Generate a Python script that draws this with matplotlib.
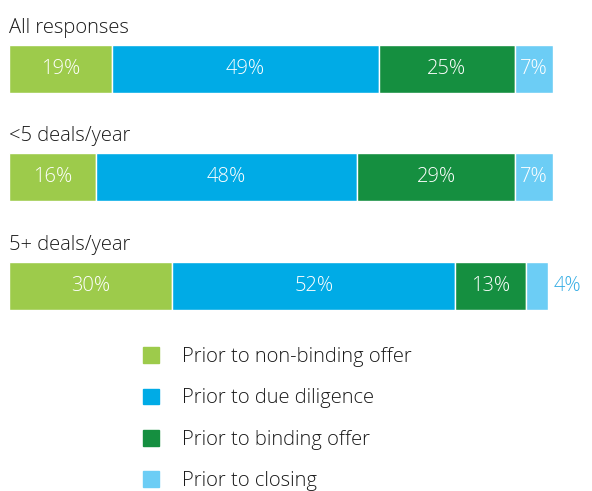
import matplotlib
matplotlib.use("Agg")
import matplotlib.pyplot as plt
import matplotlib.patches as mpatches

plt.rcParams['font.family'] = ['Open Sans', 'DejaVu Sans']

categories = ["All responses", "<5 deals/year", "5+ deals/year"]
stages = ["Prior to non-binding offer", "Prior to due diligence",
          "Prior to binding offer", "Prior to closing"]
non_binding = [19, 16, 30]
due_diligence = [49, 48, 52]
binding = [25, 29, 13]
closing = [7, 7, 4]

colors = ["#9DCB4B", "#00ABE6", "#158F40", "#6CCDF5"]

W, H = 592, 491
fig = plt.figure(figsize=(W / 100, H / 100), dpi=100)

def px_axes(x0, y0, w, h):
    # pixel box (from top left) -> figure fraction
    return fig.add_axes([x0 / W, 1 - (y0 + h) / H, w / W, h / H])

bar_tops = [45, 153, 262]
series = [non_binding, due_diligence, binding, closing]

for i, cat in enumerate(categories):
    ax = px_axes(9, bar_tops[i], 544, 48)
    left = 0
    for j, vals in enumerate(series):
        v = vals[i]
        ax.barh(0, v, left=left, height=1, color=colors[j], edgecolor="white", linewidth=1)
        if v >= 5:
            ax.text(left + v / 2, 0, f"{v}%", ha="center", va="center", color="white",
                    fontsize=14.5, fontweight="light")
        else:
            ax.text(left + v + 1.2, 0, f"{v}%", ha="left", va="center", color="#35ADE4",
                    fontsize=14.5, fontweight="light")
        left += v
    ax.set_xlim(0, 100)
    ax.set_ylim(-0.5, 0.5)
    ax.set_title(cat, loc="left", fontsize=14.5, color="#1a1a1a", pad=9, fontweight="light")
    ax.axis("off")

handles = [mpatches.Patch(color=c, label=s) for c, s in zip(colors, stages)]
leg = fig.legend(handles=handles, loc="upper left", bbox_to_anchor=(125 / W, 1 - 329 / H),
                 frameon=False, fontsize=14.5, handlelength=0.8, handleheight=0.8,
                 handletextpad=1.15, labelspacing=1.06, labelcolor="#1a1a1a")
for t in leg.get_texts():
    t.set_fontweight("light")

fig.savefig("out.png", dpi=100)
